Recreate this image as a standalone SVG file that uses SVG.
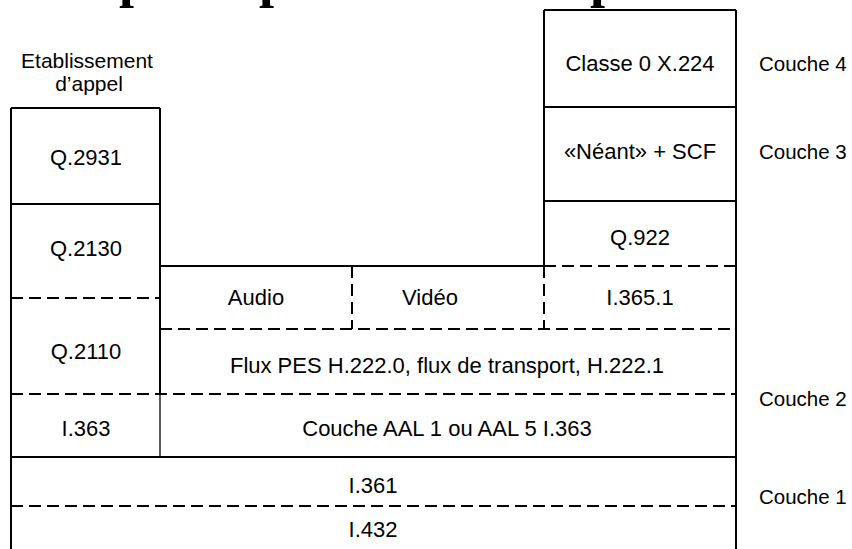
<svg xmlns="http://www.w3.org/2000/svg" width="852" height="549" viewBox="0 0 852 549">
<style>
text{font-family:"Liberation Sans",Arial,sans-serif;font-size:22px;fill:#000;text-anchor:middle}
.t{font-family:"Liberation Serif","Times New Roman",serif;font-weight:bold;font-size:54px;text-anchor:start}
.l{text-anchor:start;font-size:20.5px}
.s{stroke:#000;stroke-width:2;fill:none}
.d{stroke:#000;stroke-width:2;fill:none;stroke-dasharray:12 6}
.th{stroke:#000;stroke-width:1.3;fill:none}
</style>
<rect width="852" height="549" fill="#fff"/>
<g id="title-fragment">
<text class="t" x="119" y="-4">p</text>
<text class="t" x="259" y="-4">p</text>
<text class="t" x="590" y="-4">p</text>
</g>
<g id="connectors">
<path class="s" d="M11,108 H160 M11,108 V549 M160,108 V394 M11,204 H160"/>
<path class="th" d="M160,394 V457"/>
<path class="d" d="M11,298 H160"/>
<path class="s" d="M160,266 H544"/>
<path class="d" d="M352,266 V329 M544,266 V329 M544,266 H736"/>
<path class="d" d="M160,329 H736"/>
<path class="d" d="M11,394 H736"/>
<path class="s" d="M11,457 H736"/>
<path class="d" d="M11,506 H736"/>
<path class="s" d="M544,10 H736 M544,10 V266 M736,10 V549 M544,107 H736 M544,201 H736"/>
</g>
<g id="etablissement"><text x="87" y="68" style="font-size:21px">Etablissement</text><text x="89" y="91" style="font-size:21px">d’appel</text></g>
<g id="q2931"><text x="86" y="165">Q.2931</text></g>
<g id="q2130"><text x="86" y="256">Q.2130</text></g>
<g id="q2110"><text x="86" y="359">Q.2110</text></g>
<g id="i363"><text x="86" y="436">I.363</text></g>
<g id="audio"><text x="256" y="305">Audio</text></g>
<g id="video"><text x="430" y="305">Vidéo</text></g>
<g id="i3651"><text x="640" y="305">I.365.1</text></g>
<g id="q922"><text x="640" y="245">Q.922</text></g>
<g id="neant"><text x="640" y="159">«Néant» + SCF</text></g>
<g id="classe0"><text x="640" y="71">Classe 0 X.224</text></g>
<g id="flux"><text x="447" y="373">Flux PES H.222.0, flux de transport, H.222.1</text></g>
<g id="aal"><text x="447" y="436">Couche AAL 1 ou AAL 5 I.363</text></g>
<g id="i361"><text x="373" y="493">I.361</text></g>
<g id="i432"><text x="373" y="537">I.432</text></g>
<g id="couches">
<text class="l" x="759" y="71">Couche 4</text>
<text class="l" x="759" y="159">Couche 3</text>
<text class="l" x="759" y="406">Couche 2</text>
<text class="l" x="759" y="504">Couche 1</text>
</g>
</svg>
